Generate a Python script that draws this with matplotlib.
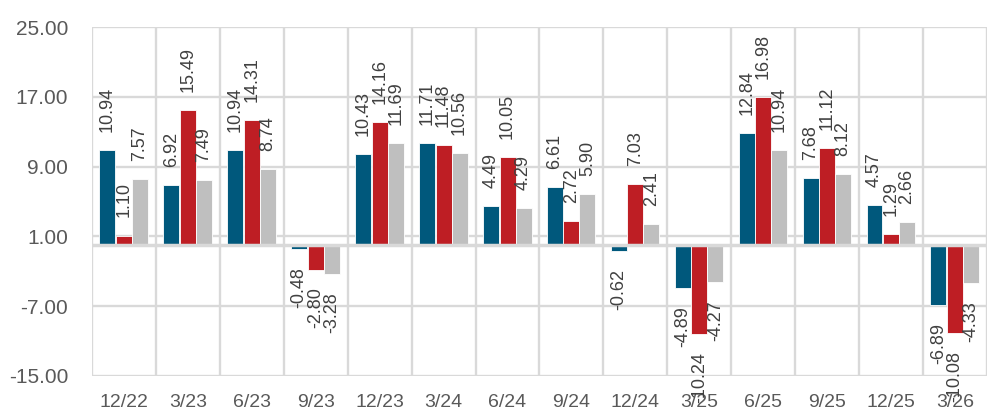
import matplotlib
matplotlib.use("Agg")
import matplotlib.pyplot as plt
import numpy as np

categories = ["12/22", "3/23", "6/23", "9/23", "12/23", "3/24", "6/24",
              "9/24", "12/24", "3/25", "6/25", "9/25", "12/25", "3/26"]
series_blue = [10.94, 6.92, 10.94, -0.48, 10.43, 11.71, 4.49,
               6.61, -0.62, -4.89, 12.84, 7.68, 4.57, -6.89]
series_red = [1.10, 15.49, 14.31, -2.80, 14.16, 11.48, 10.05,
              2.72, 7.03, -10.24, 16.98, 11.12, 1.29, -10.08]
series_gray = [7.57, 7.49, 8.74, -3.28, 11.69, 10.56, 4.29,
               5.90, 2.41, -4.27, 10.94, 8.12, 2.66, -4.33]
y_ticks = [-15, -7, 1, 9, 17, 25]

plt.rcParams['font.family'] = ['Liberation Sans', 'DejaVu Sans']

fig = plt.figure(figsize=(9.89, 4.12), dpi=100)
ax = fig.add_axes([0.093, 0.0874, 0.905, 0.847])

grid_c = "#d9d9d9"
colors = ["#00587c", "#be1e24", "#bfbfbf"]
x = np.arange(len(categories))
w = 0.25
offsets = [-0.26, 0.0, 0.25]
for vals, off, c in zip([series_blue, series_red, series_gray], offsets, colors):
    ax.bar(x + off, vals, width=w, color=c, edgecolor="white", linewidth=0.6, zorder=2)
    for xi, v in zip(x, vals):
        if v >= 0:
            ax.annotate(f"{v:.2f}", (xi + off, v), xytext=(0, 13), textcoords="offset points",
                        rotation=90, ha="center", va="bottom", fontsize=13, color="#404040", zorder=4)
        else:
            ax.annotate(f"{v:.2f}", (xi + off, v), xytext=(0, -13), textcoords="offset points",
                        rotation=90, ha="center", va="top", fontsize=13, color="#404040", zorder=4)

ax.set_xlim(-0.5, len(categories) - 0.5)
ax.set_ylim(-15, 25)
ax.set_yticks(y_ticks)
ax.set_yticklabels([f"{t:.2f}" for t in y_ticks])
ax.set_xticks(x)
ax.set_xticklabels(categories)
ax.tick_params(axis="x", length=0, labelsize=14, colors="#595959", pad=13)
ax.tick_params(axis="y", length=0, labelsize=15, colors="#595959", pad=17)

for t in y_ticks:
    ax.axhline(t, color=grid_c, lw=1.7, zorder=1)
for i in range(len(categories) + 1):
    ax.axvline(i - 0.5, color=grid_c, lw=1.7, zorder=1)
ax.axhline(0, color=grid_c, lw=2.5, zorder=3)

for s in ax.spines.values():
    s.set_visible(False)

fig.savefig("out.png", dpi=100)
